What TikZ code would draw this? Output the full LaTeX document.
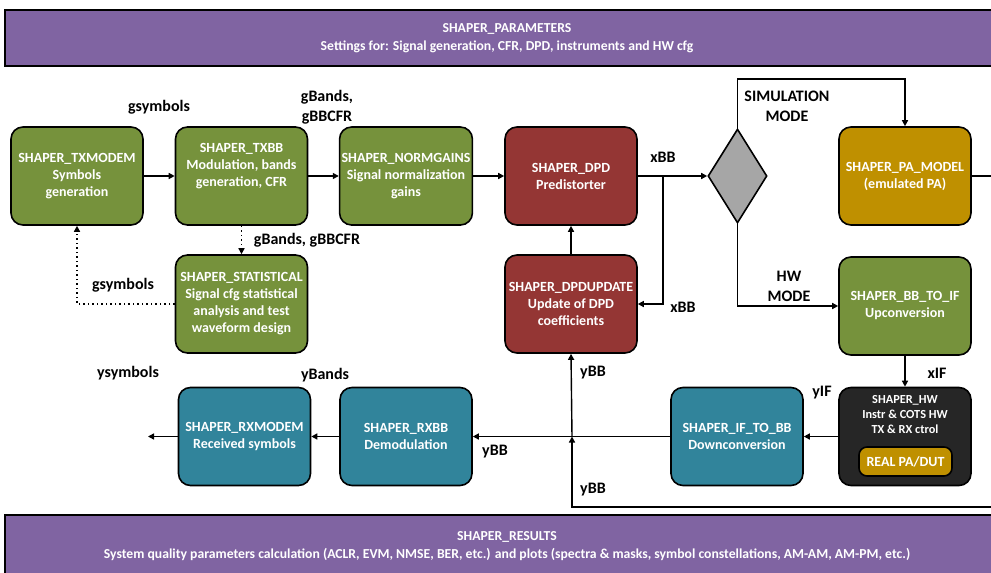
\documentclass[tikz,border=0pt]{standalone}
\usepackage{fontspec}
\setmainfont{Carlito}
\usetikzlibrary{arrows.meta,shapes.geometric}
\definecolor{cgreen}{HTML}{76923C}
\definecolor{cred}{HTML}{943634}
\definecolor{cteal}{HTML}{31849B}
\definecolor{cgold}{HTML}{BF9000}
\definecolor{cpurple}{HTML}{8064A2}
\definecolor{cgray}{HTML}{A6A6A6}
\definecolor{cdark}{HTML}{262626}
\newcommand\boxfnt{\fontsize{14}{17}\selectfont\bfseries}
\newcommand\hwfnt{\fontsize{12.3}{15}\selectfont\bfseries}
\newcommand\lblfnt{\fontsize{16}{20}\selectfont\bfseries}
\newcommand\banfnt{\fontsize{13.7}{18}\selectfont\bfseries}
\tikzset{
  blk/.style={rounded corners=12pt, draw=black, line width=1.6pt, minimum width=132pt, minimum height=98pt, text=white, align=center, font=\boxfnt, inner sep=2pt},
  gblk/.style={blk, fill=cgreen},
  rblk/.style={blk, fill=cred},
  tblk/.style={blk, fill=cteal},
  banner/.style={draw=black, line width=1.8pt, fill=cpurple, text=white, align=center, font=\banfnt, minimum width=1004pt},
  lbl/.style={font=\lblfnt, align=center, inner sep=0pt},
  arr/.style={line width=1.4pt, -{Triangle[length=6pt,width=6pt]}},
  dotarr/.style={line width=1.5pt, dash pattern=on 1.5pt off 3pt, -{Triangle[length=6pt,width=6pt]}}
}
\begin{document}
\begin{tikzpicture}[x=1pt,y=-1pt]
\useasboundingbox (0,0) rectangle (991,573);
\clip (0,0) rectangle (991,573);
% banners
\node[banner, minimum height=56pt] (params) at (507,38) {SHAPER\_PARAMETERS\\Settings for: Signal generation, CFR, DPD, instruments and HW cfg};
\node[banner, minimum height=62pt] (results) at (507,546) {SHAPER\_RESULTS\\System quality parameters calculation (ACLR, EVM, NMSE, BER, etc.) and plots (spectra \& masks, symbol constellations, AM-AM, AM-PM, etc.)};
% blocks
\node[gblk] (tx) at (77,176) {SHAPER\_TXMODEM\\Symbols\\generation};
\node[gblk] (txbb) at (241.5,176) {SHAPER\_TXBB\\Modulation, bands\\generation, CFR\\[0pt]\strut};
\node[gblk] (norm) at (406,176) {SHAPER\_NORMGAINS\\Signal normalization\\gains};
\node[gblk] (stat) at (241.5,304) {SHAPER\_STATISTICAL\\Signal cfg statistical\\analysis and test\\waveform design};
\node[rblk] (dpd) at (571,176) {SHAPER\_DPD\\Predistorter};
\node[rblk] (upd) at (571,304) {SHAPER\_DPDUPDATE\\Update of DPD\\coefficients};
\node[diamond, draw=black, line width=1.6pt, fill=cgray, aspect=0.63, minimum width=59pt, minimum height=94pt, inner sep=0pt] (dia) at (737.5,176) {};
\node[blk, fill=cgold] (pa) at (905,176) {SHAPER\_PA\_MODEL\\(emulated PA)};
\node[gblk] (bbif) at (905,306) {SHAPER\_BB\_TO\_IF\\Upconversion};
\node[blk, fill=cdark] (hw) at (905,436.5) {};
\node[font=\hwfnt, text=white, align=center, inner sep=0pt] (hwtxt) at (905,415) {SHAPER\_HW\\Instr \& COTS HW\\TX \& RX ctrol};
\node[draw=black, line width=1.6pt, fill=cgold, rounded corners=8pt, minimum width=93pt, minimum height=29pt, text=white, font=\boxfnt, inner sep=0pt] (real) at (905.5,461.5) {REAL PA/DUT};
\node[tblk] (ifbb) at (737,436.5) {SHAPER\_IF\_TO\_BB\\Downconversion};
\node[tblk] (rxbb) at (406,436.5) {SHAPER\_RXBB\\Demodulation};
\node[tblk] (rxm) at (244.5,436.5) {SHAPER\_RXMODEM\\Received symbols};
% coordinates
\coordinate (j1) at (663,176);
\coordinate (ctop) at (737.5,79);
\coordinate (j2) at (572,436.5);
\coordinate (out) at (148,436.5);
\coordinate (farA) at (1000,176);
\coordinate (farB) at (1000,507);
\coordinate (cbot) at (572,507);
% connectors
\draw[arr] (tx) -- (txbb);
\draw[arr] (txbb) -- (norm);
\draw[arr] (norm) -- (dpd);
\draw[dotarr] (txbb) -- (stat);
\draw[dotarr] (stat.west) -| (tx.south);
\draw[arr] (upd) -- (dpd);
\draw[arr] (dpd.east) -- (dia.west);
\draw[arr] (j1) |- (upd.east);
\draw[arr] (dia.north) -- (ctop) -| (pa.north);
\draw[arr] (dia.south) |- (bbif.west);
\draw[arr] (bbif) -- (hw);
\draw[arr] (hw) -- (ifbb);
\draw[arr] (ifbb) -- (rxbb);
\draw[arr] (rxbb) -- (rxm);
\draw[arr] (rxm) -- (out);
\draw[arr] (j2) -- (upd.south);
\draw[arr] (pa.east) -- (farA) -- (farB) -- (cbot) -- (j2);
% labels
\node[lbl] (l1) at (159,107) {gsymbols};
\node[lbl] (l2) at (327,107) {gBands,\\gBBCFR};
\node[lbl] (l3) at (307,240) {gBands, gBBCFR};
\node[lbl] (l4) at (123,285) {gsymbols};
\node[lbl] (l5) at (663,157) {xBB};
\node[lbl] (l6) at (683,307) {xBB};
\node[lbl] (l7) at (787,106) {SIMULATION\\MODE};
\node[lbl] (l8) at (789,286) {HW\\MODE};
\node[lbl] (l9) at (937,373) {xIF};
\node[lbl] (l10) at (822,393) {yIF};
\node[lbl] (l11) at (593,373) {yBB};
\node[lbl] (l12) at (593,490) {yBB};
\node[lbl] (l13) at (495,452) {yBB};
\node[lbl] (l14) at (325,375) {yBands};
\node[lbl] (l15) at (128,373) {ysymbols};
\end{tikzpicture}
\end{document}
